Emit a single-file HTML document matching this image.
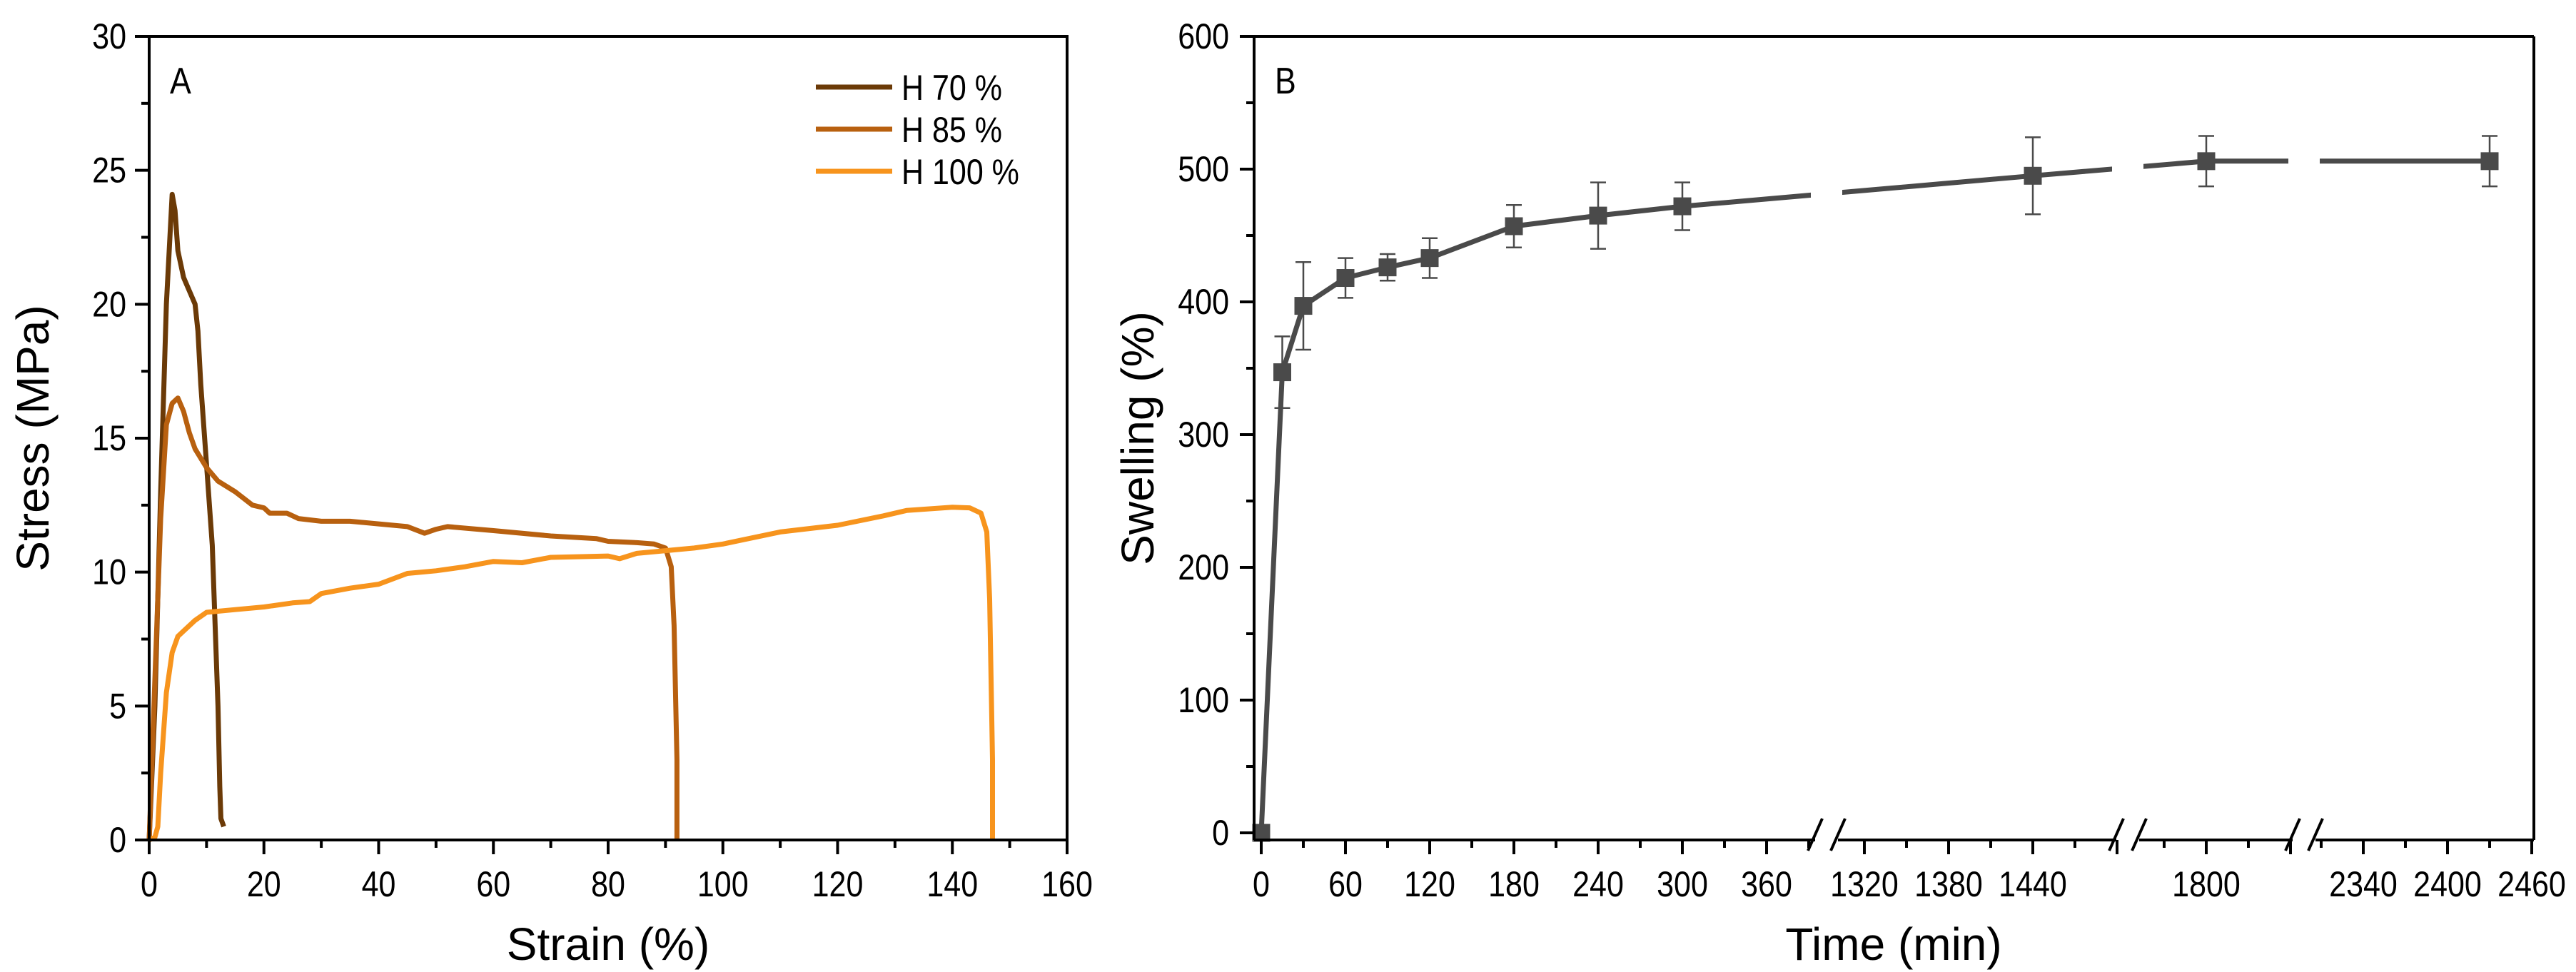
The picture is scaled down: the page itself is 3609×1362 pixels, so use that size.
<!DOCTYPE html>
<html><head><meta charset="utf-8">
<style>
html,body{margin:0;padding:0;background:#fff;}
svg{display:block;font-family:"Liberation Sans Narrow","Liberation Sans",sans-serif;}
</style></head>
<body>
<svg id="chart" width="3609" height="1362" viewBox="0 0 3609 1362" xmlns="http://www.w3.org/2000/svg">
<rect width="3609" height="1362" fill="#fff"/>
<g id="pa"></g>
<g id="pb"></g>
</svg>
<script>
// ---- Panel A data ----
const h70x = [0,1,2,3,4,4.5,5,6,7,8,8.5,9,10,11,11.5,12,12.3,12.5,13];
const h70y = [0,5,13,20,24.1,23.5,22,21,20.5,20,19,17,14,11,8,5,2,0.8,0.5];
const h85x = [0,1,2,3,4,5,6,7,8,10,12,15,18,20,21,24,26,30,35,40,45,48,50,52,60,70,78,80,85,88,90,91,91.5,92,92];
const h85y = [0,6,12,15.5,16.3,16.5,16,15.2,14.6,13.9,13.4,13,12.5,12.4,12.2,12.2,12,11.9,11.9,11.8,11.7,11.45,11.6,11.7,11.55,11.35,11.25,11.15,11.1,11.05,10.9,10.2,8,3,0];
const h100x = [0,1,1.5,2,3,4,5,6,8,10,15,20,25,28,30,35,40,45,50,55,60,65,70,80,82,85,90,95,100,110,120,128,132,140,143,145,146,146.5,147,147];
const h100y = [0,0.1,0.5,2.5,5.5,7,7.6,7.8,8.2,8.5,8.6,8.7,8.85,8.9,9.2,9.4,9.55,9.95,10.05,10.2,10.4,10.35,10.55,10.6,10.5,10.7,10.8,10.9,11.05,11.5,11.75,12.1,12.3,12.42,12.4,12.2,11.5,9,3,0];
const seriesNames = ["H 70 %","H 85 %","H 100 %"];
const seriesColors = ["#6b3a07","#b8600f","#f7941d"];
const aXTicks = [0,20,40,60,80,100,120,140,160];
const aYTicks = [0,5,10,15,20,25,30];
// ---- Panel B data ----
const timeVals = [0,15,30,60,90,120,180,240,300,1440,1800,2430];
const swellVals = [0,347,397,418,426,433,457,465,472,495,506,506];
const swellErr = [0,27,33,15,10,15,16,25,18,29,19,19];
const bYTicks = [0,100,200,300,400,500,600];
const bXTicks = [0,60,120,180,240,300,360,1320,1380,1440,1800,2340,2400,2460];

const NS="http://www.w3.org/2000/svg";
const SX=0.86;
function mk(parent,tag,attrs){const e=document.createElementNS(NS,tag);for(const k in attrs)e.setAttribute(k,attrs[k]);parent.appendChild(e);return e;}
function txt(parent,s,attrs,sx){const k=sx||SX;const a=Object.assign({},attrs);a.transform='translate('+a.x+','+a.y+') scale('+k+',1)';a.x=0;a.y=0;const e=mk(parent,'text',a);e.textContent=s;return e;}
function vtxt(parent,s,cx,cy,fs){const e=mk(parent,'text',{x:0,y:0,'font-size':fs,'text-anchor':'middle',transform:'translate('+cx+','+cy+') rotate(-90)'});e.textContent=s;return e;}

// ===== Panel A =====
const pa=document.getElementById('pa');
const AL=209,AR=1495,AT=51,AB=1177;
const ax=v=>AL+(v/160)*(AR-AL);
const ay=v=>AB-(v/30)*(AB-AT);
[[h70x,h70y],[h85x,h85y],[h100x,h100y]].forEach((s,i)=>{
  const p=s[0].map((x,j)=>ax(x).toFixed(1)+','+ay(s[1][j]).toFixed(1)).join(' ');
  const l=mk(pa,'polyline',{points:p,fill:'none',stroke:seriesColors[i],'stroke-width':7,'stroke-linejoin':'round'});
  
  
});
mk(pa,'rect',{x:AL,y:AT,width:AR-AL,height:AB-AT,fill:'none',stroke:'#000','stroke-width':4});
for(let v=0;v<=160;v+=10){const x=ax(v);const L=(v%20===0)?20:11;mk(pa,'line',{x1:x,y1:AB,x2:x,y2:AB+L,stroke:'#000','stroke-width':4});}
aXTicks.forEach(v=>{const t=txt(pa,String(v),{x:ax(v),y:1256,'font-size':50,'text-anchor':'middle'});

});
for(let v=0;v<=30;v+=2.5){const y=ay(v);const L=(v%5===0)?20:11;mk(pa,'line',{x1:AL,y1:y,x2:AL-L,y2:y,stroke:'#000','stroke-width':4});}
aYTicks.forEach(v=>{const t=txt(pa,String(v),{x:177,y:ay(v)+17,'font-size':50,'text-anchor':'end'});

});
let t=txt(pa,'Strain (%)',{x:852,y:1345,'font-size':64,'text-anchor':'middle'},1);


t=vtxt(pa,'Stress (MPa)',68,614,64);


t=txt(pa,'A',{x:238,y:131,'font-size':52});


seriesNames.forEach((n,i)=>{const y=122+i*59;
 const g=mk(pa,'g',{});
 
 
 mk(g,'line',{x1:1143,y1:y,x2:1250,y2:y,stroke:seriesColors[i],'stroke-width':7});
 txt(g,n,{x:1263,y:y+18,'font-size':50});});

// ===== Panel B =====
const pb=document.getElementById('pb');
const BL=1757,BR=3550,BT=51,BB=1177;
const segs=[{t0:0,x0:1767,xmin:1757,xmax:2559},{t0:1320,x0:2612,xmin:2559,xmax:2981},{t0:1800,x0:3091,xmin:2981,xmax:3228},{t0:2340,x0:3311,xmin:3228,xmax:3550}];
const K=118/60;
function bx(t){let s=segs[0];segs.forEach(g=>{if(t>=g.t0-((g.x0-g.xmin)/K))s=g;});return s.x0+(t-s.t0)*K;}
const by=v=>1167-(v/100)*186;
const lp=timeVals.map((tv,i)=>bx(tv).toFixed(1)+','+by(swellVals[i]).toFixed(1)).join(' ');
const ln=mk(pb,'polyline',{points:lp,fill:'none',stroke:'#4a4a4a','stroke-width':7,'stroke-linejoin':'round'});


[2559,2981,3228].forEach(x=>{mk(pb,'rect',{x:x-22,y:BT+5,width:44,height:BB-BT-12,fill:'#fff'});});
timeVals.forEach((tv,i)=>{const x=bx(tv),y=by(swellVals[i]),e=swellErr[i]*1.86;
 if(e>0){const g=mk(pb,'g',{stroke:'#4a4a4a','stroke-width':2.5});
 
 
 mk(g,'line',{x1:x,y1:y-e,x2:x,y2:y+e});mk(g,'line',{x1:x-11,y1:y-e,x2:x+11,y2:y-e});mk(g,'line',{x1:x-11,y1:y+e,x2:x+11,y2:y+e});}
 const m=mk(pb,'rect',{x:x-12.5,y:y-12.5,width:25,height:25,fill:'#4a4a4a'});
 
 
});
mk(pb,'line',{x1:BL,y1:BT,x2:BR,y2:BT,stroke:'#000','stroke-width':4});
mk(pb,'line',{x1:BL,y1:BT,x2:BL,y2:BB,stroke:'#000','stroke-width':4});
mk(pb,'line',{x1:BR,y1:BT,x2:BR,y2:BB,stroke:'#000','stroke-width':4});
segs.forEach((s,i)=>{const a=s.xmin+(i?16:0),b=s.xmax-(i<3?16:0);
 mk(pb,'line',{x1:a,y1:BB,x2:b,y2:BB,stroke:'#000','stroke-width':4});
 const tA=Math.ceil((s.t0-(s.x0-s.xmin)/K)/30)*30;
 for(let v=tA;s.x0+(v-s.t0)*K<=s.xmax-10||(i===3&&v<=2460);v+=30){const x=s.x0+(v-s.t0)*K;if(x<s.xmin+ (i?18:-1))continue;if(x>BR+1)break;
  const L=(v%60===0)?20:11;mk(pb,'line',{x1:x,y1:BB,x2:x,y2:BB+L,stroke:'#000','stroke-width':4});}
});
[2559,2981,3228].forEach(x=>{const g=mk(pb,'g',{stroke:'#000','stroke-width':4});
 
 
 mk(g,'line',{x1:x-26,y1:1192,x2:x-6,y2:1147});mk(g,'line',{x1:x+6,y1:1192,x2:x+26,y2:1147});});
bXTicks.forEach(v=>{const t=txt(pb,String(v),{x:bx(v),y:1256,'font-size':50,'text-anchor':'middle'});

});
for(let v=0;v<=600;v+=50){const y=by(v);const L=(v%100===0)?20:11;mk(pb,'line',{x1:BL,y1:y,x2:BL-L,y2:y,stroke:'#000','stroke-width':4});}
bYTicks.forEach(v=>{const t=txt(pb,String(v),{x:1722,y:by(v)+17,'font-size':50,'text-anchor':'end'});

});
t=txt(pb,'Time (min)',{x:2653,y:1345,'font-size':64,'text-anchor':'middle'},1);


t=vtxt(pb,'Swelling (%)',1616,614,64);


t=txt(pb,'B',{x:1786,y:131,'font-size':52});


</script>
</body></html>
